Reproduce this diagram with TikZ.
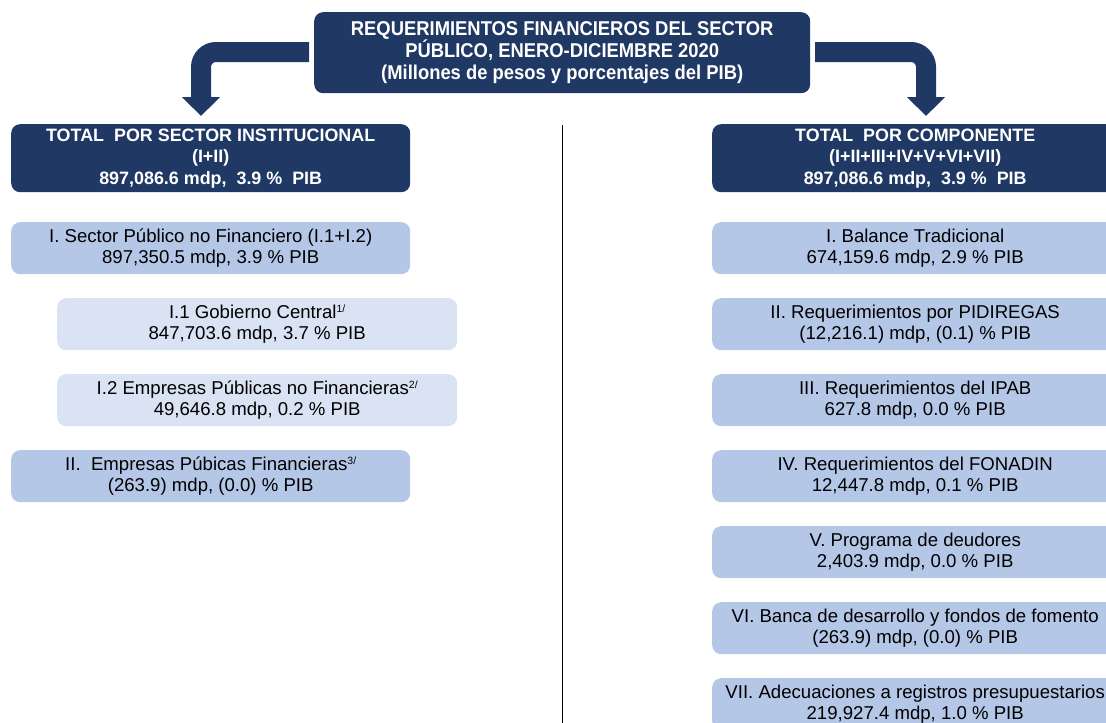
\documentclass[tikz,border=0pt]{standalone}
\usepackage{fontspec}
\setmainfont{Liberation Sans}
\newfontfamily\titlefont[FakeStretch=0.92]{Liberation Sans}
\usetikzlibrary{arrows.meta}
\definecolor{navy}{HTML}{203864}
\definecolor{midblue}{HTML}{B4C7E7}
\definecolor{paleblue}{HTML}{DAE3F3}
\newcommand{\supx}[1]{\raisebox{6pt}{\fontsize{10.5}{10.5}\selectfont #1}}
\tikzset{
  boxbase/.style={rectangle, rounded corners=9pt, inner sep=0pt, align=center, anchor=north west, minimum height=52pt},
  headbox/.style={boxbase, fill=navy, text=white, minimum height=68pt, font=\bfseries\fontsize{17.9}{21.5}\selectfont},
  midbox/.style={boxbase, fill=midblue, text=black, font=\fontsize{18.6}{21.5}\selectfont},
  palebox/.style={boxbase, fill=paleblue, text=black, font=\fontsize{18.6}{21.5}\selectfont},
  titlebox/.style={rectangle, rounded corners=9pt, inner sep=0pt, align=center, anchor=north west, fill=navy, text=white, minimum width=496pt, minimum height=81pt, font=\titlefont\bfseries\fontsize{20}{22}\selectfont},
  bigarrow/.style={draw=navy, line width=20pt, rounded corners=15pt, -{Triangle[width=37pt,length=19pt]}},
  divider/.style={draw=black, line width=1.8pt}
}
\begin{document}
\begin{tikzpicture}[x=1pt,y=-1pt]
\useasboundingbox (0,0) rectangle (1106,723);
\clip (0,0) rectangle (1106,723);
% title
\node[titlebox] (title) at (314,12) {\raisebox{-1.5pt}{REQUERIMIENTOS FINANCIEROS DEL SECTOR}\\P\'UBLICO, ENERO-DICIEMBRE 2020\\(Millones de pesos y porcentajes del PIB)};
% arrows
\coordinate (lstart) at (309,52);
\coordinate (ltip) at (201,116);
\coordinate (rstart) at (815,52);
\coordinate (rtip) at (926,116);
\draw[bigarrow] (lstart) -| (ltip);
\draw[bigarrow] (rstart) -| (rtip);
% divider
\coordinate (dtop) at (562.5,125);
\coordinate (dbot) at (562.5,723);
\draw[divider] (dtop) -- (dbot);
% left column
\node[headbox, minimum width=399pt] (lhead) at (11,124) {TOTAL\ \ POR SECTOR INSTITUCIONAL\\(I+II)\\897,086.6 mdp,\ \ 3.9 \%\ \ PIB};
\node[midbox, minimum width=399pt] (l1) at (11,222) {I. Sector P\'ublico no Financiero (I.1+I.2)\\897,350.5 mdp, 3.9 \% PIB};
\node[palebox, minimum width=400pt] (l11) at (57,298) {I.1 Gobierno Central\supx{1/}\\847,703.6 mdp, 3.7 \% PIB};
\node[palebox, minimum width=400pt] (l12) at (57,374) {I.2 Empresas P\'ublicas no Financieras\supx{2/}\\49,646.8 mdp, 0.2 \% PIB};
\node[midbox, minimum width=399pt] (l2) at (11,450) {II.\ \ Empresas P\'ubicas Financieras\supx{3/}\\(263.9) mdp, (0.0) \% PIB};
% right column
\node[headbox, minimum width=406pt] (rhead) at (712,124) {TOTAL\ \ POR COMPONENTE\\(I+II+III+IV+V+VI+VII)\\897,086.6 mdp,\ \ 3.9 \%\ \ PIB};
\node[midbox, minimum width=406pt] (r1) at (712,222) {I. Balance Tradicional\\674,159.6 mdp, 2.9 \% PIB};
\node[midbox, minimum width=406pt] (r2) at (712,298) {II. Requerimientos por PIDIREGAS\\(12,216.1) mdp, (0.1) \% PIB};
\node[midbox, minimum width=406pt] (r3) at (712,374) {III. Requerimientos del IPAB\\627.8 mdp, 0.0 \% PIB};
\node[midbox, minimum width=406pt] (r4) at (712,450) {IV. Requerimientos del FONADIN\\12,447.8 mdp, 0.1 \% PIB};
\node[midbox, minimum width=406pt] (r5) at (712,526) {V. Programa de deudores\\2,403.9 mdp, 0.0 \% PIB};
\node[midbox, minimum width=406pt] (r6) at (712,602) {VI. Banca de desarrollo y fondos de fomento\\(263.9) mdp, (0.0) \% PIB};
\node[midbox, minimum width=406pt] (r7) at (712,678) {VII. Adecuaciones a registros presupuestarios\\219,927.4 mdp, 1.0 \% PIB};
\end{tikzpicture}
\end{document}
